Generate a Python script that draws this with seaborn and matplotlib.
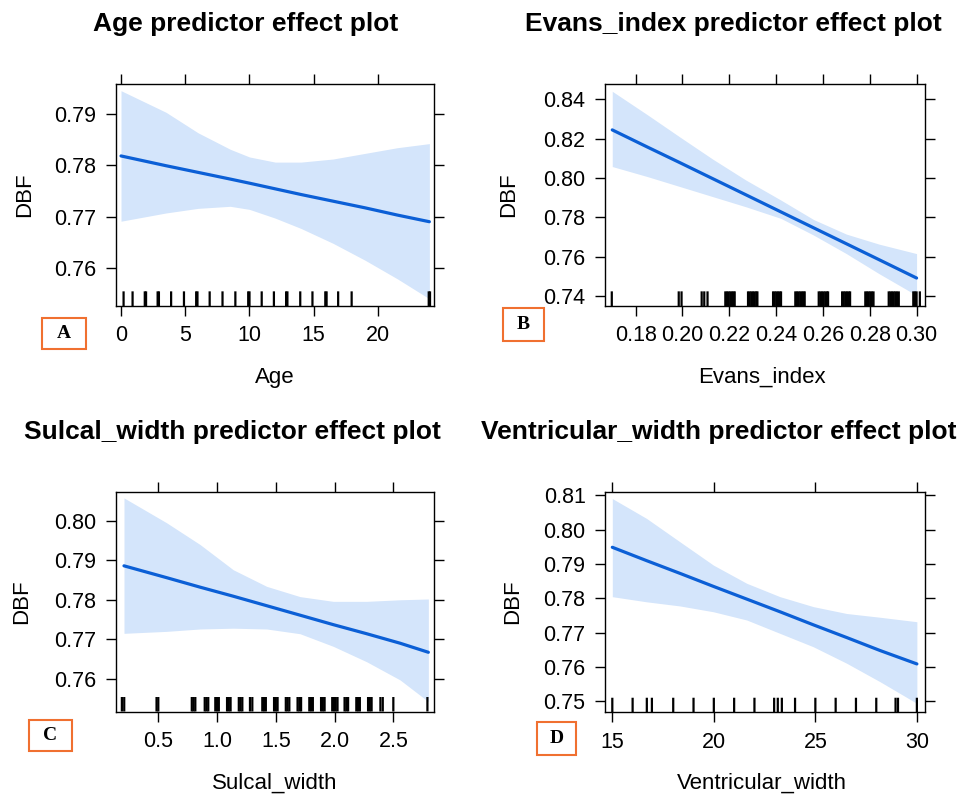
import matplotlib
matplotlib.use("Agg")
import matplotlib.pyplot as plt
import seaborn as sns
from matplotlib.patches import Rectangle

sns.set_theme(style="white")
plt.rcParams['font.family'] = ['Liberation Sans', 'DejaVu Sans']

# ---------------- data ----------------
# Panel A: Age
age_x = [0, 3.5, 6, 8.5, 10, 12, 14, 16.5, 19, 21.5, 24]
age_fit = [0.7818, 0.7799, 0.7786, 0.7773, 0.7765, 0.7754, 0.7743, 0.7730, 0.7717, 0.7703, 0.7690]
age_lo = [0.7691, 0.7707, 0.7716, 0.7720, 0.7714, 0.7697, 0.7677, 0.7648, 0.7615, 0.7579, 0.7540]
age_up = [0.7945, 0.7903, 0.7863, 0.7831, 0.7816, 0.7806, 0.7806, 0.7812, 0.7823, 0.7834, 0.7842]
age_rug = [0.2, 0.9, 1.85, 1.95, 2.85, 2.95, 3.9, 4.9, 5.85, 5.95, 6.9, 7.9, 8.9,
           9.9, 10.0, 10.95, 11.9, 12.85, 12.95, 13.95, 14.9, 15.9, 16.0, 16.9,
           17.95, 23.95, 24.05]
age_xticks = [0, 5, 10, 15, 20]
age_yticks = [0.76, 0.77, 0.78, 0.79]

# Panel B: Evans_index
evans_x = [0.170, 0.185, 0.199, 0.213, 0.227, 0.242, 0.256, 0.270, 0.284, 0.300]
evans_fit = [0.8244, 0.8157, 0.8077, 0.7996, 0.7915, 0.7828, 0.7747, 0.7666, 0.7585, 0.7492]
evans_lo = [0.8058, 0.8007, 0.7956, 0.7905, 0.7854, 0.7795, 0.7710, 0.7616, 0.7514, 0.7404]
evans_up = [0.8440, 0.8321, 0.8207, 0.8095, 0.7990, 0.7888, 0.7789, 0.7715, 0.7664, 0.7616]
evans_rug = [0.1698, 0.1984, 0.1996, 0.2082, 0.2093, 0.2107,
             0.2183, 0.2190, 0.2197, 0.2204, 0.2211, 0.2218, 0.2223,
             0.2280, 0.2287, 0.2294, 0.2301, 0.2308, 0.2315, 0.2320,
             0.2387, 0.2394, 0.2401, 0.2408, 0.2415, 0.2421,
             0.2482, 0.2489, 0.2496, 0.2503, 0.2510, 0.2517, 0.2522,
             0.2582, 0.2589, 0.2596, 0.2603, 0.2610, 0.2617, 0.2622,
             0.2682, 0.2689, 0.2696, 0.2703, 0.2710, 0.2716,
             0.2781, 0.2788, 0.2795, 0.2802, 0.2809, 0.2816,
             0.2881, 0.2888, 0.2895, 0.2902, 0.2909, 0.2916, 0.2924,
             0.2986, 0.2993, 0.3000, 0.3014]
evans_xticks = [0.18, 0.20, 0.22, 0.24, 0.26, 0.28, 0.30]
evans_yticks = [0.74, 0.76, 0.78, 0.80, 0.82, 0.84]

# Panel C: Sulcal_width
sulcal_x = [0.208, 0.571, 0.855, 1.138, 1.422, 1.706, 1.989, 2.273, 2.557, 2.798]
sulcal_fit = [0.7886, 0.7856, 0.7832, 0.7809, 0.7785, 0.7761, 0.7737, 0.7714, 0.7690, 0.7667]
sulcal_lo = [0.7715, 0.7720, 0.7726, 0.7728, 0.7726, 0.7714, 0.7682, 0.7643, 0.7597, 0.7542]
sulcal_up = [0.8058, 0.7995, 0.7940, 0.7876, 0.7834, 0.7808, 0.7796, 0.7796, 0.7800, 0.7802]
sulcal_rug = [0.19, 0.21, 0.485, 0.50,
              0.785, 0.80, 0.815, 0.895, 0.91, 0.925, 0.985, 1.0, 1.015,
              1.085, 1.10, 1.115, 1.185, 1.20, 1.215, 1.28, 1.30,
              1.385, 1.40, 1.415, 1.485, 1.50, 1.515, 1.585, 1.60, 1.615,
              1.685, 1.70, 1.715, 1.785, 1.80, 1.815, 1.885, 1.90, 1.915,
              1.98, 1.995, 2.01, 2.025, 2.085, 2.10, 2.115, 2.185, 2.20, 2.215,
              2.285, 2.30, 2.315, 2.39, 2.41, 2.50, 2.79]
sulcal_xticks = [0.5, 1.0, 1.5, 2.0, 2.5]
sulcal_yticks = [0.76, 0.77, 0.78, 0.79, 0.80]

# Panel D: Ventricular_width
vent_x = [15, 16.69, 18.33, 19.98, 21.62, 23.26, 24.9, 26.54, 28.19, 30]
vent_fit = [0.7949, 0.7910, 0.7873, 0.7835, 0.7798, 0.7761, 0.7723, 0.7686, 0.7648, 0.7609]
vent_lo = [0.7805, 0.7790, 0.7778, 0.7761, 0.7737, 0.7698, 0.7659, 0.7611, 0.7557, 0.7494]
vent_up = [0.8091, 0.8033, 0.7965, 0.7897, 0.7844, 0.7805, 0.7776, 0.7756, 0.7745, 0.7732]
vent_rug = [15.0, 16.0, 16.7, 16.95, 18.0, 19.0, 20.0, 21.0, 22.0, 22.97, 23.15,
            23.35, 24.0, 25.0, 26.0, 27.0, 28.0, 28.95, 29.07, 30.0]
vent_xticks = [15, 20, 25, 30]
vent_yticks = [0.75, 0.76, 0.77, 0.78, 0.79, 0.80, 0.81]

titles = ["Age predictor effect plot", "Evans_index predictor effect plot",
          "Sulcal_width predictor effect plot", "Ventricular_width predictor effect plot"]
xlabels = ["Age", "Evans_index", "Sulcal_width", "Ventricular_width"]
letters = ["A", "B", "C", "D"]

# ---------------- drawing ----------------
W, H = 978, 797
fig = plt.figure(figsize=(W / 100, H / 100), dpi=100, facecolor="white")

LINE = "#0b5fd6"
BAND = "#d4e5fb"


def fx(px):
    return px / W


def fy(py):
    return 1 - py / H


def panel(rect, x, fit, lo, up, rug, xlim, ylim, xticks, xtl, yticks, ytl,
          xlabel, xl_coords, yl_x):
    l, t, r, b = rect
    ax = fig.add_axes([fx(l), fy(b), fx(r - l), (b - t) / H])
    ax.fill_between(x, lo, up, color=BAND, lw=0, zorder=1)
    sns.lineplot(x=x, y=fit, ax=ax, color=LINE, linewidth=2.3, zorder=3)
    sns.rugplot(x=rug, ax=ax, height=0.066, color="black", linewidth=1.6,
                expand_margins=False, zorder=4, snap=False)
    ax.set_xlim(*xlim)
    ax.set_ylim(*ylim)
    ax.set_xticks(xticks)
    ax.set_xticklabels(xtl)
    ax.set_yticks(yticks)
    ax.set_yticklabels(ytl)
    ax.tick_params(direction="out", length=7, width=1, color="black",
                   bottom=True, left=True, top=True, right=True,
                   labelbottom=True, labelleft=True, labeltop=False,
                   labelright=False, labelsize=15.5, pad=7,
                   labelcolor="black")
    for s in ax.spines.values():
        s.set_color("black")
        s.set_linewidth(1.0)
        s.set_visible(True)
    ax.set_xlabel(xlabel, fontsize=16, color="black")
    ax.set_ylabel("DBF", fontsize=16, color="black")
    ax.xaxis.set_label_coords(*xl_coords)
    ax.xaxis.label.set_va("center")
    ax.yaxis.set_label_coords(yl_x, 0.5)
    ax.yaxis.label.set_va("center")
    ax.grid(False)
    return ax


panel((116, 84, 434, 306), age_x, age_fit, age_lo, age_up, age_rug,
      (-0.39, 24.36), (0.7526, 0.7958),
      age_xticks, [str(v) for v in age_xticks],
      age_yticks, [f"{v:.2f}" for v in age_yticks],
      xlabels[0], (0.5, -0.32), -0.286)

panel((605, 84, 925, 306), evans_x, evans_fit, evans_lo, evans_up, evans_rug,
      (0.1669, 0.3036), (0.735, 0.8477),
      evans_xticks, [f"{v:.2f}" for v in evans_xticks],
      evans_yticks, [f"{v:.2f}" for v in evans_yticks],
      xlabels[1], (0.49, -0.32), -0.30)

panel((116, 492, 434, 711.5), sulcal_x, sulcal_fit, sulcal_lo, sulcal_up, sulcal_rug,
      (0.14, 2.846), (0.7517, 0.8073),
      sulcal_xticks, [f"{v:.1f}" for v in sulcal_xticks],
      sulcal_yticks, [f"{v:.2f}" for v in sulcal_yticks],
      xlabels[2], (0.5, -0.326), -0.296)

panel((605, 491.7, 925, 712.3), vent_x, vent_fit, vent_lo, vent_up, vent_rug,
      (14.64, 30.40), (0.7468, 0.8111),
      vent_xticks, [str(v) for v in vent_xticks],
      vent_yticks, [f"{v:.2f}" for v in vent_yticks],
      xlabels[3], (0.49, -0.32), -0.2875)

# titles
title_pos = [(245.8, 24), (733.5, 24), (232, 432), (719, 432)]
for (tx, ty), s in zip(title_pos, titles):
    fig.text(fx(tx), fy(ty), s, ha="center", va="center", fontsize=19,
             fontweight="bold", color="black")

# letter boxes
boxes = [(42, 318, 86, 349), (503, 308, 544, 341), (29, 720, 72, 751), (537, 722, 576, 755)]
for (x0, y0, x1, y1), s in zip(boxes, letters):
    fig.add_artist(Rectangle((fx(x0), fy(y1)), (x1 - x0) / W, (y1 - y0) / H,
                             transform=fig.transFigure, facecolor="white",
                             edgecolor="#f07030", lw=1.5))
    fig.text(fx((x0 + x1) / 2), fy((y0 + y1) / 2), s, ha="center", va="center",
             fontsize=14, fontweight="bold", family=["Liberation Serif", "DejaVu Serif"],
             color="black")

fig.savefig("out.png", dpi=100, facecolor="white")
